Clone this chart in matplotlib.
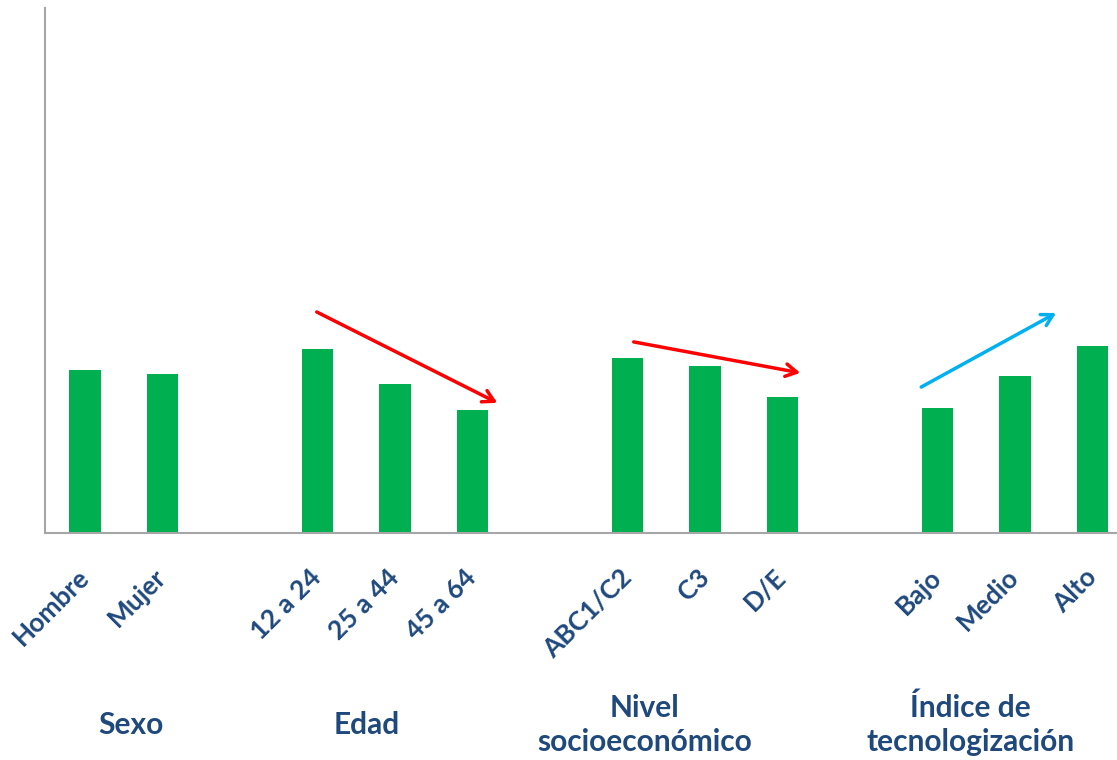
import matplotlib.pyplot as plt
import matplotlib.transforms as mtransforms

# categories laid out on slots, with empty slots between groups
categories = ['Hombre', 'Mujer', '12 a 24', '25 a 44', '45 a 64',
              'ABC1/C2', 'C3', 'D/E', 'Bajo', 'Medio', 'Alto']
slots = [0, 1, 3, 4, 5, 7, 8, 9, 11, 12, 13]
values = [31.0, 30.3, 35.0, 28.4, 23.4, 33.3, 31.8, 25.9, 23.8, 30.0, 35.6]

groups = ['Sexo', 'Edad', 'Nivel\nsocioeconómico', 'Índice de\ntecnologización']
group_x = [0.59, 3.63, 7.22, 11.43]

# trend arrows: (x0, y0, x1, y1, colour)
arrows = [
    (2.99, 42.1, 5.32, 24.8, '#FF0000'),
    (7.08, 36.4, 9.23, 30.5, '#FF0000'),
    (10.79, 27.8, 12.53, 41.9, '#00B0F0'),
]

plt.rcParams['font.family'] = ['Lato', 'DejaVu Sans']
text_color = '#1F497D'

fig = plt.figure(figsize=(11.17, 7.6), dpi=100)
ax = fig.add_axes([45 / 1117, 227 / 760, 1072 / 1117, 525 / 760])

ax.bar(slots, values, width=0.41, color='#00B050')

for x0, y0, x1, y1, c in arrows:
    ax.annotate('', xy=(x1, y1), xytext=(x0, y0),
                arrowprops=dict(arrowstyle='->,head_length=0.8,head_width=0.45',
                                color=c, lw=2.5, shrinkA=0, shrinkB=0))

ax.set_xlim(-0.516, 13.316)
ax.set_ylim(0, 100)
ax.set_yticks([])
ax.set_xticks(slots)
ax.set_xticklabels(categories, rotation=45, ha='right', va='center',
                   rotation_mode='anchor', fontsize=19, fontweight='bold',
                   color=text_color)
ax.tick_params(axis='x', length=0, pad=29)

for side in ['top', 'right']:
    ax.spines[side].set_visible(False)
for side in ['left', 'bottom']:
    ax.spines[side].set_color('#A6A6A6')
    ax.spines[side].set_linewidth(1.5)

trans = mtransforms.blended_transform_factory(ax.transData, fig.transFigure)
for gx, g in zip(group_x, groups):
    ax.text(gx, 1 - 725 / 760, g, transform=trans, ha='center', va='center',
            fontsize=21.5, fontweight='bold', color=text_color, linespacing=1.28)

fig.savefig('out.png', dpi=100)
